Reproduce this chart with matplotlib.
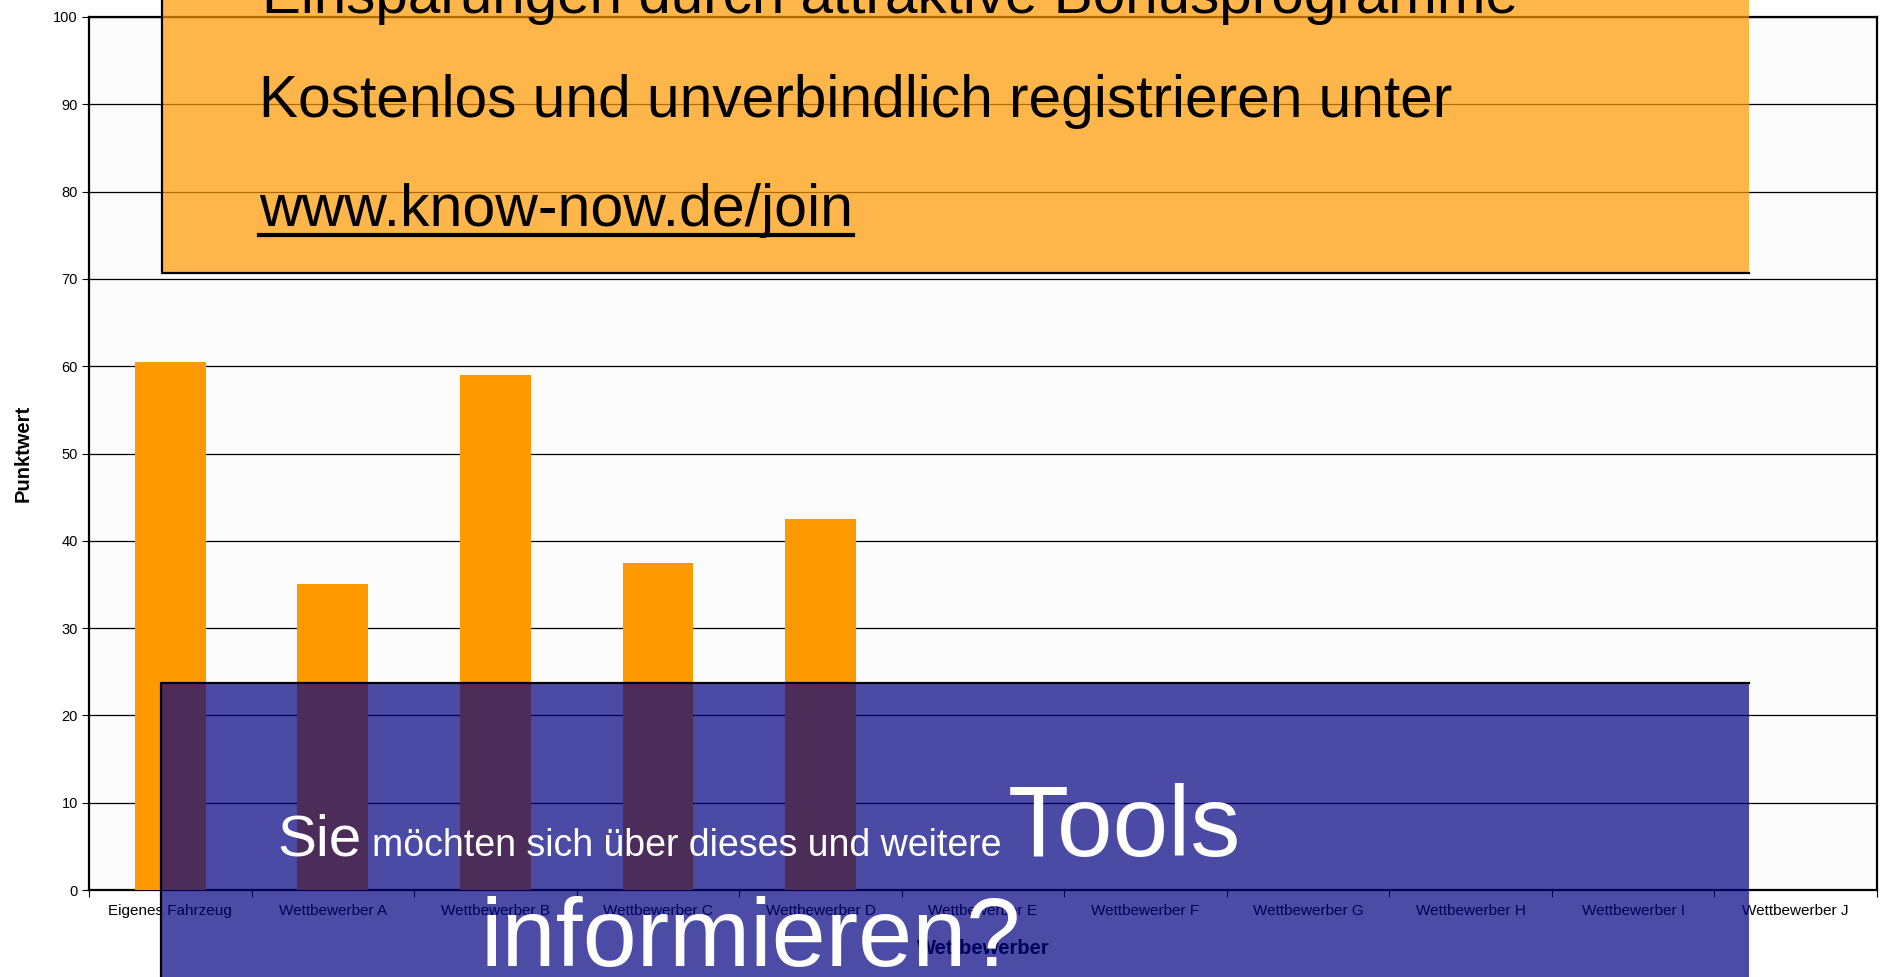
import numpy as np
import matplotlib
matplotlib.use("Agg")
import matplotlib.pyplot as plt
from matplotlib.patches import Rectangle
from matplotlib.lines import Line2D

plt.rcParams['font.family'] = ['Liberation Sans', 'DejaVu Sans']

categories = ["Eigenes Fahrzeug", "Wettbewerber A", "Wettbewerber B", "Wettbewerber C",
              "Wettbewerber D", "Wettbewerber E", "Wettbewerber F", "Wettbewerber G",
              "Wettbewerber H", "Wettbewerber I", "Wettbewerber J"]
punktwert = [60.5, 35, 59, 37.5, 42.5, 0, 0, 0, 0, 0, 0]
y_ticks = list(range(0, 101, 10))

W, H = 1886, 977
fx = lambda px: px / W
fy = lambda py: 1 - py / H

fig = plt.figure(figsize=(W / 100, H / 100), dpi=100, facecolor='white')
ax = fig.add_axes([fx(89), fy(890), fx(1877) - fx(89), fy(17) - fy(890)])
ax.set_facecolor('#fcfcfc')

x = np.arange(len(categories))
ax.bar(x, punktwert, width=0.435, color='#ff9900', zorder=3)

ax.set_xlim(-0.5, len(categories) - 0.5)
ax.set_ylim(0, 100)
ax.set_yticks(y_ticks)
ax.yaxis.grid(True, color='black', lw=0.9, zorder=0)
ax.set_axisbelow(True)
ax.tick_params(axis='y', labelsize=10.5, length=5, width=0.8, pad=3)
ax.set_xticks(x)
ax.set_xticklabels(categories, fontsize=11)
ax.set_xticks(np.arange(len(categories) + 1) - 0.5, minor=True)
ax.tick_params(axis='x', which='major', length=0, pad=10)
ax.tick_params(axis='x', which='minor', length=5, width=0.8)
for s in ax.spines.values():
    s.set_linewidth(1.6)
    s.set_color('black')
ax.set_ylabel('Punktwert', fontsize=14.5, fontweight='bold', labelpad=15)
ax.set_xlabel('Wettbewerber', fontsize=14.5, fontweight='bold', labelpad=15)

# overlay: orange promo box
fig.add_artist(Rectangle((fx(162), fy(273)), fx(1749) - fx(162), fy(-5) - fy(273),
                         transform=fig.transFigure, facecolor='#ff9900', alpha=0.7,
                         edgecolor='none', zorder=10))
fig.add_artist(Line2D([fx(162), fx(162), fx(1749)], [fy(-5), fy(273), fy(273)],
                      transform=fig.transFigure, color='black', lw=1.6, zorder=11))
fig.text(fx(223), fy(2), '•', fontsize=20, color='#777777', zorder=12)
fig.text(fx(262), fy(13), 'Einsparungen durch attraktive Bonusprogramme',
         fontsize=42, color='black', zorder=12)
fig.text(fx(259), fy(117), 'Kostenlos und unverbindlich registrieren unter',
         fontsize=42.2, color='black', zorder=12)
url = fig.text(fx(259), fy(226), 'www.know-now.de/join', fontsize=42.5,
               color='black', zorder=12)

# overlay: blue info box
fig.add_artist(Rectangle((fx(161), fy(990)), fx(1749) - fx(161), fy(683) - fy(990),
                         transform=fig.transFigure, facecolor='#000080', alpha=0.7,
                         edgecolor='none', zorder=10))
fig.add_artist(Line2D([fx(161), fx(161), fx(1749)], [fy(990), fy(683), fy(683)],
                      transform=fig.transFigure, color='black', lw=1.6, zorder=11))
fig.text(fx(277), fy(856), 'Sie', fontsize=42, color='white', zorder=12)
fig.text(fx(372), fy(856), 'möchten sich über dieses und weitere', fontsize=27,
         color='white', zorder=12)
fig.text(fx(1008), fy(856), 'Tools', fontsize=72, color='white', zorder=12)
fig.text(fx(751), fy(966), 'informieren?', fontsize=70, color='white',
         ha='center', zorder=12)

# underline for url
fig.canvas.draw()
bb = url.get_window_extent().transformed(fig.transFigure.inverted())
fig.add_artist(Line2D([bb.x0, bb.x1], [fy(235), fy(235)], transform=fig.transFigure,
                      color='black', lw=3, zorder=12))

fig.savefig('out.png', dpi=100)
